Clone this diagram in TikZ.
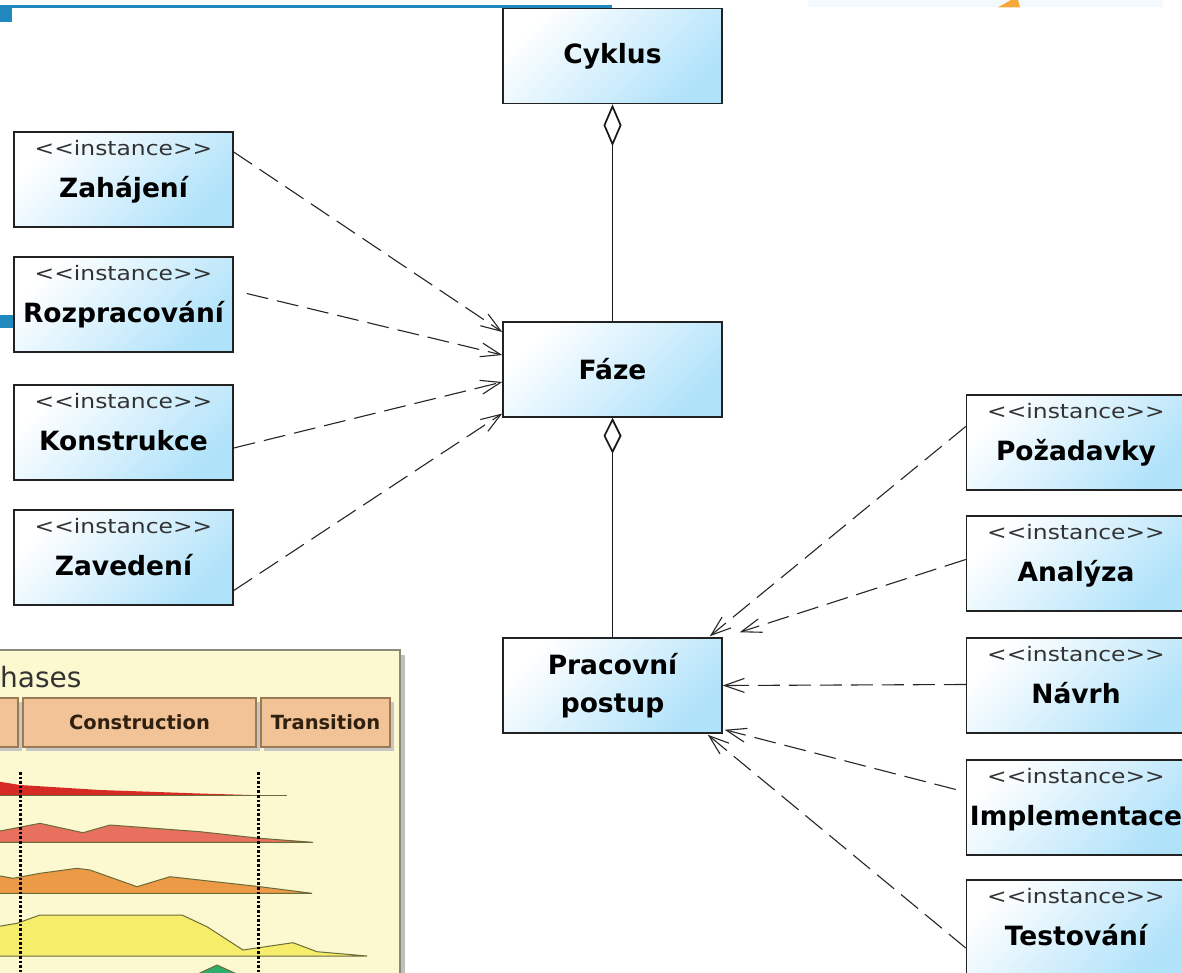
\documentclass[tikz,border=0pt]{standalone}
\usepackage{fontspec}
\setmainfont{DejaVu Sans}
\usepackage{graphicx}
\usetikzlibrary{arrows.meta,calc}
\definecolor{boxblue}{HTML}{B0E2FA}
\definecolor{boxline}{HTML}{222222}
\definecolor{bgblue}{HTML}{1F88BE}
\definecolor{toplight}{HTML}{F3F9FC}
\definecolor{toporange}{HTML}{F7A93B}
\definecolor{panelyellow}{HTML}{FCF8D0}
\definecolor{panelborder}{HTML}{8A8A7A}
\definecolor{headfill}{HTML}{F2C396}
\definecolor{headborder}{HTML}{9A7B55}
\definecolor{humpline}{HTML}{6B6B3A}
\definecolor{humpred}{HTML}{D62A24}
\definecolor{humppink}{HTML}{E8705E}
\definecolor{humporange}{HTML}{EC9A45}
\definecolor{humpyellow}{HTML}{F6EE6A}
\definecolor{humpgreen}{HTML}{2EAD6F}
\newcommand\namefont{\bfseries\fontsize{26.5}{38}\selectfont}
\newcommand\stereofont{\fontsize{20}{24}\selectfont}
\newcommand\inst{\scalebox{1.17}[1]{<{}<instance>{}>}}
\begin{document}
\begin{tikzpicture}[x=1pt,y=-1pt,
  umlbox/.style={draw=boxline, line width=1.5pt, top color=white, bottom color=boxblue, shading angle=45, minimum width=219pt, minimum height=95pt, inner sep=0pt, font=\namefont, align=center},
  stereo/.style={font=\stereofont, text=black!80, anchor=base, inner sep=0pt},
  bname/.style={font=\namefont, anchor=base, inner sep=0pt},
  dep/.style={draw=black!85, line width=1.1pt, dash pattern=on 22pt off 9pt, -{Straight Barb[length=20pt,width=14pt]}},
  agg/.style={draw=black!90, line width=1.7pt},
  hdbox/.style={fill=headfill, draw=headborder, line width=1.2pt},
  hdtext/.style={font=\bfseries\fontsize{19.5}{22}\selectfont, text=black!75!brown, inner sep=0pt},
  hump/.style={draw=humpline, line width=1pt},
  phaseline/.style={line width=2.6pt, dash pattern=on 2.6pt off 2pt}
]
\useasboundingbox (0,0) rectangle (1182,973);
\clip (0,0) rectangle (1182,973);
\fill[white] (0,0) rectangle (1182,973);
% background fragments
\fill[bgblue] (0,5) rectangle (612,7.7);
\fill[bgblue] (0,7.7) rectangle (12,21.7);
\fill[bgblue] (0,315) rectangle (16,328);
\fill[toplight] (808,0) rectangle (1163,7.3);
\fill[toporange] (998,7.3) -- (1011,0) -- (1018,0) -- (1020,7.3) -- cycle;
% phases panel
\fill[black!25] (-10,655) rectangle (405,990);
\draw[fill=panelyellow, draw=panelborder, line width=2pt] (-10,650) rectangle (400,990);
\node[font=\fontsize{28}{30}\selectfont, text=black!80, anchor=base west, inner sep=0pt] (ph) at (0,687) {hases};
\foreach \a/\b in {-10/18, 23/256, 261/390} {
  \fill[black!22] (\a+3,702) rectangle (\b+4,751);
  \draw[hdbox] (\a,698) rectangle (\b,747);
}
\node[hdtext] (con) at (139.5,722.5) {Construction};
\node[hdtext] (tra) at (325.5,722.5) {Transition};
\fill[humpred] (-5,781) -- (20,785) -- (100,790) -- (200,793.5) -- (250,795) -- (-5,795) -- cycle;
\draw[humpline, line width=1pt] (-5,795) -- (287,795);
\filldraw[hump, fill=humppink] (-5,832) -- (40,823.3) -- (83,832.7) -- (110,825) -- (200,831.7) -- (260,838.3) -- (313,842.3) -- (-5,842.3) -- cycle;
\filldraw[hump, fill=humporange] (-5,875) -- (13,878.3) -- (40,873.3) -- (77,868.3) -- (90,870) -- (137,886.7) -- (170,876.7) -- (260,886.7) -- (312,893.3) -- (-5,893.3) -- cycle;
\filldraw[hump, fill=humpyellow] (-5,927) -- (17,923.3) -- (40,915) -- (182,915) -- (207,926.7) -- (243,950) -- (293,942.7) -- (317,951.7) -- (367,956) -- (-5,956) -- cycle;
\filldraw[hump, fill=humpgreen] (185,980) -- (217,965) -- (250,980) -- cycle;
\draw[phaseline] (20.7,772) -- (20.7,980);
\draw[phaseline] (258.3,772) -- (258.3,980);
% UML boxes
\node[umlbox] (cyk) at (612.5,56) {Cyklus};
\node[umlbox] (faze) at (612.5,369.5) {Fáze};
\node[umlbox] (prac) at (612.5,685.5) {Pracovní\\postup};
\foreach \n/\y/\t in {zah/179.5/Zahájení, roz/304.5/Rozpracování, kon/432.5/Konstrukce, zav/557.5/Zavedení} {
  \node[umlbox] (\n) at (123.5,\y) {};
  \node[stereo] (\n s) at ($(\n.north)+(0,24)$) {\inst};
  \node[bname] (\n t) at ($(\n.north)+(0,66)$) {\t};
}
\foreach \n/\y/\t in {poz/442.5/Požadavky, ana/563.5/Analýza, nav/685.5/Návrh, imp/807.5/Implementace, tes/927.5/Testování} {
  \node[umlbox] (\n) at (1076,\y) {};
  \node[stereo] (\n s) at ($(\n.north)+(0,24)$) {\inst};
  \node[bname] (\n t) at ($(\n.north)+(0,66)$) {\t};
}
% aggregations
\draw[agg, {Diamond[open,length=42pt,width=18pt]}-] (cyk.south) -- (faze.north);
\draw[agg, {Diamond[open,length=36pt,width=18pt]}-] (faze.south) -- (prac.north);
% dependencies to Faze
\draw[dep] ($(zah.east)+(0,-27.5)$) -- ($(faze.west)+(0,-37.5)$);
\draw[dep] ($(roz.east)+(13,-11)$) -- ($(faze.west)+(0,-14.5)$);
\draw[dep] ($(kon.east)+(0,15.5)$) -- ($(faze.west)+(0,12.5)$);
\draw[dep] ($(zav.east)+(0,33)$) -- ($(faze.west)+(0,44)$);
% dependencies to Pracovni postup
\draw[dep] ($(poz.west)+(0,-16)$) -- ($(prac.north east)+(-13,-1)$);
\draw[dep] ($(ana.west)+(0,-4)$) -- ($(prac.north east)+(17,-5)$);
\draw[dep] ($(nav.west)+(0,-1)$) -- (prac.east);
\draw[dep] ($(imp.west)+(-10,-18)$) -- ($(prac.south east)+(2,-4)$);
\draw[dep] ($(tes.west)+(0,20.5)$) -- ($(prac.south east)+(-15,1)$);
\end{tikzpicture}
\end{document}
